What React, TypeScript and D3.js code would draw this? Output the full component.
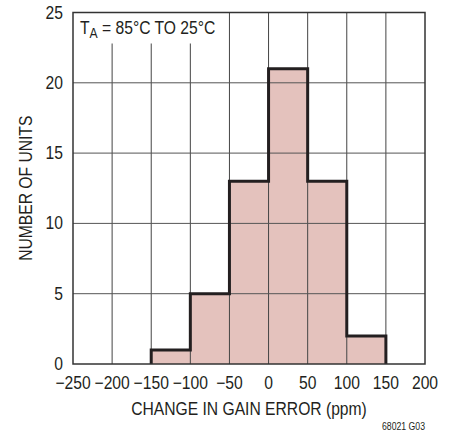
import { useEffect, useRef } from "react";
import * as d3 from "d3";

const BIN_STARTS = [-150, -100, -50, 0, 50, 100];
const BIN_WIDTH = 50;
const COUNTS = [1, 5, 13, 21, 13, 2];
const X_TICKS = [-250, -200, -150, -100, -50, 0, 50, 100, 150, 200];
const Y_TICKS = [0, 5, 10, 15, 20, 25];

const WIDTH = 455;
const HEIGHT = 435;
const MARGIN = { top: 12.5, right: 30, bottom: 71, left: 73 };
const FONT = "'Liberation Sans', Arial, sans-serif";
const SQUEEZE = 0.87; // fake a condensed face
const INK = "#231f20";

type Sel = d3.Selection<any, unknown, null, undefined>;

function label(
  parent: Sel,
  x: number,
  y: number,
  text: string,
  opts: { anchor?: string; size?: number; rotate?: number } = {}
) {
  const rot = opts.rotate ? ` rotate(${opts.rotate})` : "";
  return parent
    .append("text")
    .attr("transform", `translate(${x},${y})${rot} scale(${SQUEEZE},1)`)
    .attr("text-anchor", opts.anchor ?? "start")
    .attr("font-family", FONT)
    .attr("font-size", opts.size ?? 18)
    .attr("fill", INK)
    .text(text);
}

export default function App() {
  const svgRef = useRef<SVGSVGElement>(null);

  useEffect(() => {
    const svgElement = svgRef.current;
    if (!svgElement) return;

    const svg = d3.select(svgElement);
    svg.selectAll("*").remove();

    const innerWidth = WIDTH - MARGIN.left - MARGIN.right;
    const innerHeight = HEIGHT - MARGIN.top - MARGIN.bottom;

    const x = d3.scaleLinear().domain([-250, 200]).range([0, innerWidth]);
    const y = d3.scaleLinear().domain([0, 25]).range([innerHeight, 0]);

    const chart = svg
      .append("g")
      .attr("transform", `translate(${MARGIN.left},${MARGIN.top})`);

    chart
      .selectAll("rect.bar")
      .data(BIN_STARTS)
      .join("rect")
      .attr("class", "bar")
      .attr("x", (d) => x(d))
      .attr("y", (_, i) => y(COUNTS[i]))
      .attr("width", (d) => x(d + BIN_WIDTH) - x(d))
      .attr("height", (_, i) => y(0) - y(COUNTS[i]))
      .attr("fill", "#e4c2bd");

    // gridlines stop under the annotation
    const boxBottom = 31;

    chart
      .selectAll("line.vgrid")
      .data(X_TICKS.slice(1, -1))
      .join("line")
      .attr("class", "vgrid")
      .attr("x1", (d) => x(d))
      .attr("x2", (d) => x(d))
      .attr("y1", (d) => (x(d) < 150 ? boxBottom : 0))
      .attr("y2", innerHeight)
      .attr("stroke", "#444")
      .attr("stroke-width", 1);

    chart
      .selectAll("line.hgrid")
      .data(Y_TICKS.slice(1, -1))
      .join("line")
      .attr("class", "hgrid")
      .attr("x1", 0)
      .attr("x2", innerWidth)
      .attr("y1", (d) => y(d))
      .attr("y2", (d) => y(d))
      .attr("stroke", "#555")
      .attr("stroke-width", 1);

    const pts: [number, number][] = [];
    BIN_STARTS.forEach((s, i) => {
      pts.push([s, COUNTS[i]]);
      pts.push([s + BIN_WIDTH, COUNTS[i]]);
    });
    const outline: [number, number][] = [
      [BIN_STARTS[0], 0],
      ...pts,
      [BIN_STARTS[BIN_STARTS.length - 1] + BIN_WIDTH, 0],
    ];
    const line = d3
      .line<[number, number]>()
      .x((d) => x(d[0]))
      .y((d) => y(d[1]));

    chart
      .append("path")
      .attr("d", line(outline))
      .attr("fill", "none")
      .attr("stroke", INK)
      .attr("stroke-width", 3);

    chart
      .append("rect")
      .attr("width", innerWidth)
      .attr("height", innerHeight)
      .attr("fill", "none")
      .attr("stroke", "#333")
      .attr("stroke-width", 1.5);

    // annotation
    const ann = label(chart, 7, 21.5, "");
    ann.append("tspan").text("T");
    ann.append("tspan").attr("font-size", 14).attr("dy", 4).text("A");
    ann.append("tspan").attr("dy", -4).text(" = 85°C TO 25°C");

    Y_TICKS.forEach((t) => {
      label(chart, -10, y(t) + 6, String(t), { anchor: "end" });
    });

    X_TICKS.forEach((t) => {
      label(chart, x(t), innerHeight + 25, t < 0 ? `\u2212${Math.abs(t)}` : `${t}`, {
        anchor: "middle",
      });
    });

    label(svg, 249, 415, "CHANGE IN GAIN ERROR (ppm)", { anchor: "middle" });
    label(svg, 32, MARGIN.top + innerHeight / 2, "NUMBER OF UNITS", {
      anchor: "middle",
      rotate: -90,
    });
    label(svg, 425, 430, "68021 G03", { anchor: "end", size: 10 });
  }, []);

  return (
    <svg
      ref={svgRef}
      width={WIDTH}
      height={HEIGHT}
      style={{ position: "absolute", left: 0, top: 0, background: "#fff" }}
    />
  );
}
